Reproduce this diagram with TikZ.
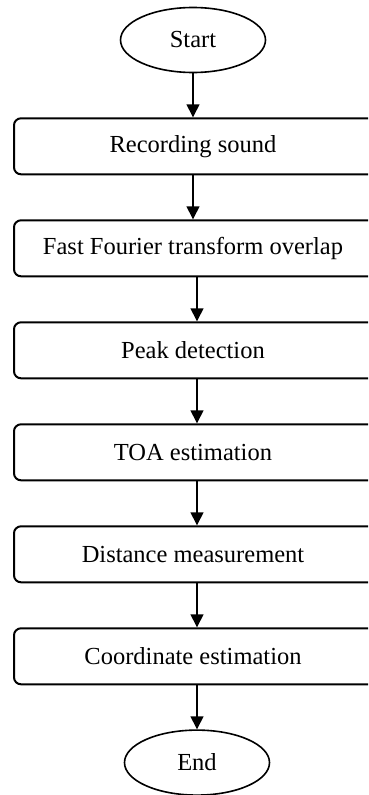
\documentclass[tikz,border=0pt]{standalone}
\usepackage{fontspec}
\setmainfont{Liberation Serif}
\usetikzlibrary{arrows.meta,positioning,shapes.geometric}

\begin{document}
\begin{tikzpicture}[x=1pt,y=-1pt,node distance=44pt,
  font=\fontsize{24.5}{29}\selectfont,
  term/.style={draw,ellipse,line width=1.6pt,minimum width=145pt,minimum height=65pt,inner sep=0pt},
  proc/.style={draw,rounded corners=7pt,line width=2pt,minimum width=368pt,minimum height=56pt,align=center},
  arr/.style={-{Triangle[length=13pt,width=13pt]},line width=1.4pt}]
% boxes run past the right margin, so cut them off there
\clip (0,0) rectangle (368,795);
\node[term] (start) at (193,40) {Start};
\node[proc,below=of start,xshift=5pt] (rec) {\hspace*{-10pt}Recording sound};
\node[proc,below=of rec] (fft) {\hspace*{-10pt}Fast Fourier transform overlap};
\node[proc,below=of fft] (peak) {\hspace*{-10pt}Peak detection};
\node[proc,below=of peak] (toa) {\hspace*{-10pt}TOA estimation};
\node[proc,below=of toa] (dist) {\hspace*{-10pt}Distance measurement};
\node[proc,below=of dist] (coord) {\hspace*{-10pt}Coordinate estimation};
\node[term,below=of coord,xshift=-1pt] (end) {End};
\draw[arr] (start)--(start|-rec.north);\draw[arr] (rec.south-|start)--(start|-fft.north);
\draw[arr] (fft.south-|end)--(end|-peak.north);\draw[arr] (peak.south-|end)--(end|-toa.north);
\draw[arr] (toa.south-|end)--(end|-dist.north);\draw[arr] (dist.south-|end)--(end|-coord.north);
\draw[arr] (coord.south-|end)--(end);
\end{tikzpicture}
\end{document}
